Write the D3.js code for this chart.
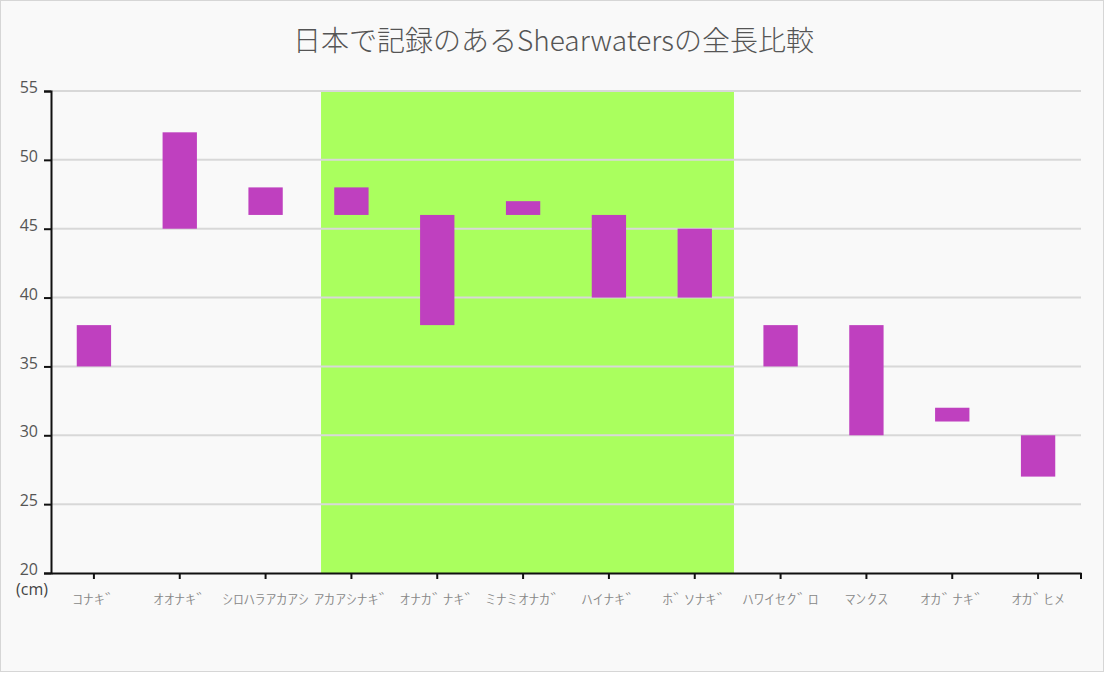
<!DOCTYPE html>
<html>
<head>
<meta charset="utf-8">
<script src="https://cdn.jsdelivr.net/npm/d3@7.9.0/dist/d3.min.js"></script>
<style>
  html, body { margin: 0; padding: 0; background: #fff; }
  svg { display: block; }
  text { font-family: "Noto Sans CJK JP", "Noto Sans", sans-serif; }
</style>
</head>
<body>
<svg id="chart" width="1105" height="673"></svg>
<script>
const species = ['ｺﾅｷﾞ', 'ｵｵﾅｷﾞ', 'ｼﾛﾊﾗｱｶｱｼ', 'ｱｶｱｼﾅｷﾞ', 'ｵﾅｶﾞﾅｷﾞ', 'ﾐﾅﾐｵﾅｶﾞ',
  'ﾊｲﾅｷﾞ', 'ﾎﾞｿﾅｷﾞ', 'ﾊﾜｲｾｸﾞﾛ', 'ﾏﾝｸｽ', 'ｵｶﾞﾅｷﾞ', 'ｵｶﾞﾋﾒ'];
const minLength = [35, 45, 46, 46, 38, 46, 40, 40, 35, 30, 31, 27];
const maxLength = [38, 52, 48, 48, 46, 47, 46, 45, 38, 38, 32, 30];
const yTicks = [20, 25, 30, 35, 40, 45, 50, 55];
// highlighted span, in band units along the x axis
const highlight = [3.146, 7.957];

const W = 1105, H = 673;
const margin = { top: 91, right: 24, bottom: 100, left: 51 };
const svg = d3.select('#chart');

svg.append('rect')
  .attr('x', 0.5).attr('y', 0.5)
  .attr('width', W - 2).attr('height', H - 2)
  .attr('fill', '#f9f9f9')
  .attr('stroke', '#d6d6d6');

const x = d3.scaleBand()
  .domain(species)
  .range([margin.left, W - margin.right])
  .paddingInner(0.6)
  .paddingOuter(0.3);

const y = d3.scaleLinear()
  .domain([20, 55])
  .range([H - margin.bottom, margin.top]);

const step = x.step();
const x0 = margin.left;

svg.append('text')
  .attr('x', W / 2 + 1)
  .attr('y', 51)
  .attr('text-anchor', 'middle')
  .attr('font-size', 28)
  .attr('font-weight', 300)
  .attr('fill', '#555')
  .text('日本で記録のあるShearwatersの全長比較');

svg.append('rect')
  .attr('x', x0 + highlight[0] * step)
  .attr('y', y(55))
  .attr('width', (highlight[1] - highlight[0]) * step)
  .attr('height', y(20) - y(55))
  .attr('fill', '#aaff5e');

svg.append('g')
  .selectAll('line')
  .data(yTicks.filter(d => d > 20))
  .join('line')
  .attr('x1', margin.left)
  .attr('x2', W - margin.right)
  .attr('y1', d => y(d))
  .attr('y2', d => y(d))
  .attr('stroke', '#d8d8d8')
  .attr('stroke-width', 2);

svg.append('g')
  .selectAll('rect')
  .data(species)
  .join('rect')
  .attr('x', d => x(d))
  .attr('width', x.bandwidth())
  .attr('y', (d, i) => y(maxLength[i]))
  .attr('height', (d, i) => y(minLength[i]) - y(maxLength[i]))
  .attr('fill', '#bf40bf');

const yAxis = svg.append('g')
  .attr('transform', `translate(${margin.left},0)`)
  .call(d3.axisLeft(y).tickValues(yTicks).tickSize(7).tickPadding(6));
yAxis.select('.domain').attr('stroke', '#111').attr('stroke-width', 2);
yAxis.selectAll('.tick line').attr('stroke', '#111').attr('stroke-width', 2);
yAxis.selectAll('.tick text')
  .attr('font-size', 16)
  .attr('fill', '#555')
  .attr('dy', '0.1em')
  .style('font-family', '"Open Sans", "Noto Sans", sans-serif');

svg.append('text')
  .attr('x', 16)
  .attr('y', 595)
  .attr('font-size', 16)
  .attr('fill', '#444')
  .style('font-family', '"Open Sans", "Noto Sans", sans-serif')
  .text('(cm)');

const xAxis = svg.append('g')
  .attr('transform', `translate(0,${H - margin.bottom})`)
  .call(d3.axisBottom(x).tickSize(6).tickPadding(15).tickSizeOuter(0));
xAxis.select('.domain').attr('stroke', '#111').attr('stroke-width', 2);
xAxis.selectAll('.tick line').attr('stroke', '#111').attr('stroke-width', 2);
xAxis.selectAll('.tick text')
  .attr('font-size', 14)
  .attr('font-weight', 300)
  .attr('fill', '#888')
  .attr('transform', 'scale(1.55,1)');

xAxis.append('line')
  .attr('x1', W - margin.right)
  .attr('x2', W - margin.right)
  .attr('y1', 0)
  .attr('y2', 6)
  .attr('stroke', '#111')
  .attr('stroke-width', 2);
</script>
</body>
</html>
